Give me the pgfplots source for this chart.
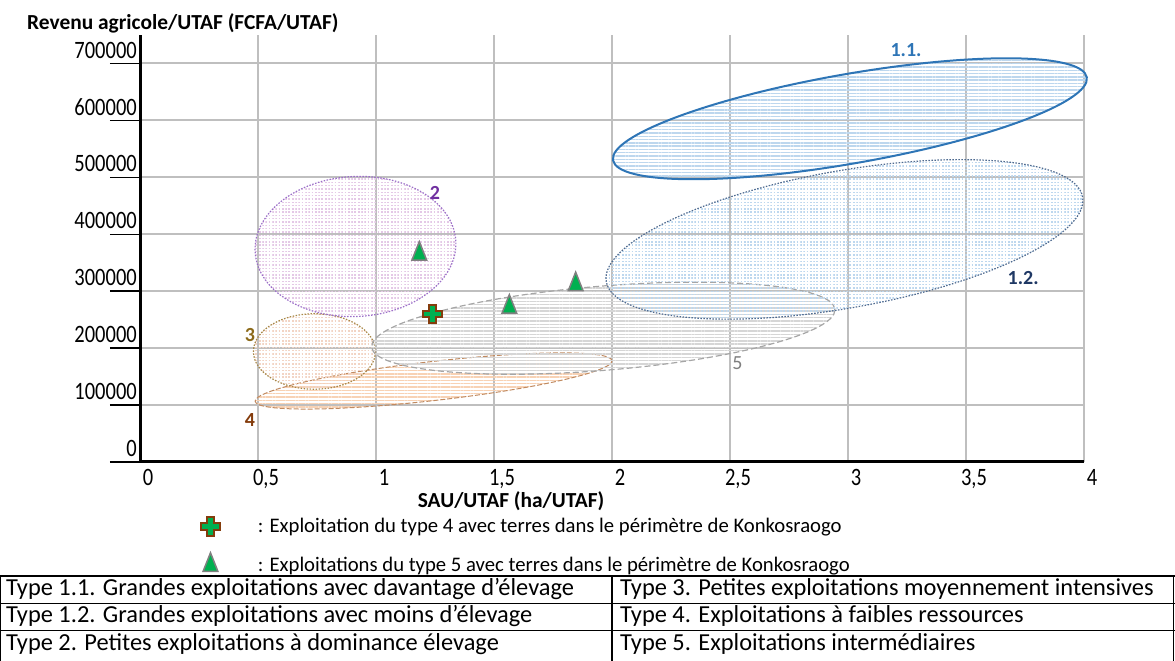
\documentclass[border=0pt]{standalone}
\usepackage{fontspec}
\setmainfont{Carlito}
\newfontfamily\tickfam{Carlito}[FakeStretch=0.82]
\usepackage{pgfplots}
\pgfplotsset{compat=1.18}
\usetikzlibrary{patterns.meta}

\definecolor{gridgray}{HTML}{BFBFBF}
\definecolor{c11}{HTML}{2E75B6}
\definecolor{c12}{HTML}{4F6A8F}
\definecolor{c12t}{HTML}{1F3864}
\definecolor{hblue}{HTML}{BDD7EE}
\definecolor{c2}{HTML}{9B6FC8}
\definecolor{c2t}{HTML}{7030A0}
\definecolor{h2}{HTML}{E4C8E6}
\definecolor{c3}{HTML}{A88848}
\definecolor{c3t}{HTML}{8C6A1A}
\definecolor{h3}{HTML}{F2D4C4}
\definecolor{c4}{HTML}{C08A60}
\definecolor{c4t}{HTML}{843C0C}
\definecolor{h4}{HTML}{F8D2B4}
\definecolor{c5}{HTML}{A6A6A6}
\definecolor{c5t}{HTML}{7F7F7F}
\definecolor{h5}{HTML}{D6D6D6}
\definecolor{mgreen}{HTML}{00B050}
\definecolor{mbrown}{HTML}{843C0C}
\definecolor{mgray}{HTML}{808080}

\newcommand\tickfont{\tickfam\fontsize{25bp}{28bp}\selectfont}
\newcommand\titlefont{\fontsize{21.4bp}{25bp}\selectfont\bfseries}
\newcommand\legfont{\fontsize{20.7bp}{24bp}\selectfont}
\newcommand\tabfont{\fontsize{24.4bp}{28bp}\selectfont}
\newcommand\lblfont{\fontsize{20bp}{24bp}\selectfont\bfseries}

\pgfdeclareplotmark{fatplus}{%
  \pgfpathmoveto{\pgfqpoint{-0.36\pgfplotmarksize}{\pgfplotmarksize}}%
  \pgfpathlineto{\pgfqpoint{0.36\pgfplotmarksize}{\pgfplotmarksize}}%
  \pgfpathlineto{\pgfqpoint{0.36\pgfplotmarksize}{0.36\pgfplotmarksize}}%
  \pgfpathlineto{\pgfqpoint{\pgfplotmarksize}{0.36\pgfplotmarksize}}%
  \pgfpathlineto{\pgfqpoint{\pgfplotmarksize}{-0.36\pgfplotmarksize}}%
  \pgfpathlineto{\pgfqpoint{0.36\pgfplotmarksize}{-0.36\pgfplotmarksize}}%
  \pgfpathlineto{\pgfqpoint{0.36\pgfplotmarksize}{-\pgfplotmarksize}}%
  \pgfpathlineto{\pgfqpoint{-0.36\pgfplotmarksize}{-\pgfplotmarksize}}%
  \pgfpathlineto{\pgfqpoint{-0.36\pgfplotmarksize}{-0.36\pgfplotmarksize}}%
  \pgfpathlineto{\pgfqpoint{-\pgfplotmarksize}{-0.36\pgfplotmarksize}}%
  \pgfpathlineto{\pgfqpoint{-\pgfplotmarksize}{0.36\pgfplotmarksize}}%
  \pgfpathlineto{\pgfqpoint{-0.36\pgfplotmarksize}{0.36\pgfplotmarksize}}%
  \pgfpathclose
  \pgfusepathqfillstroke
}

\tikzset{hatch/.style={pattern={Lines[angle=0,distance=3.3bp,line width=1.4bp]}, pattern color=#1}}

\begin{document}
\begin{tikzpicture}[x=1bp,y=1bp]
\useasboundingbox (0,0) rectangle (1175,661);
\begin{axis}[
  at={(140bp,199bp)}, anchor=south west,
  scale only axis, width=944bp, height=427bp,
  xmin=0, xmax=4, ymin=0, ymax=750000,
  axis lines=left, axis line style={-, line width=3bp, black},
  xtick={0,0.5,1,1.5,2,2.5,3,3.5,4},
  xticklabels={0,{0,5},1,{1,5},2,{2,5},3,{3,5},4},
  ytick={0,100000,200000,300000,400000,500000,600000,700000},
  yticklabels={0,100000,200000,300000,400000,500000,600000,700000},
  scaled y ticks=false,
  grid=major, major grid style={gridgray, line width=2bp},
  tick align=outside, major tick length=30bp,
  xtick style={draw=none}, ytick style={black, line width=1.5bp},
  ticklabel style={font=\tickfont},
  yticklabel style={anchor=south east, inner sep=0pt, xshift=27bp, yshift=5bp},
  xticklabel style={anchor=north, inner sep=0pt, xshift=8bp, yshift=23bp},
  clip=false,
  legend style={draw=none, fill=none, inner sep=0pt, at={(0.0646,-0.1288)}, anchor=north west,
    font=\legfont, row sep=17bp, column sep=38bp, nodes={inner sep=0pt}},
  legend cell align=left,
  legend image code/.code={\draw[#1] plot coordinates {(0bp,0bp)};},
]
% ellipses (areas of farm types)
\draw[draw=c4, line width=1bp, dash pattern=on 5bp off 2bp, hatch=h4,
  rotate around={6.5:(axis cs:1.244,142300)}] (axis cs:1.244,142300) ellipse [x radius=179.6bp, y radius=19.5bp];
\draw[draw=c3, line width=1.2bp, dash pattern=on 1.5bp off 1.5bp, hatch=h3]
  (axis cs:0.739,194100) ellipse [x radius=61bp, y radius=37.7bp];
\draw[draw=c5, line width=1.2bp, dash pattern=on 6bp off 3bp, hatch=h5,
  rotate around={4.67:(axis cs:1.963,235000)}] (axis cs:1.963,235000) ellipse [x radius=232.4bp, y radius=42.1bp];
\draw[draw=c2, line width=1.2bp, dash pattern=on 1.5bp off 1.5bp, hatch=h2,
  rotate around={3:(axis cs:0.913,378500)}] (axis cs:0.913,378500) ellipse [x radius=100.5bp, y radius=70bp];
\draw[draw=c12, line width=1.2bp, dash pattern=on 1.5bp off 1.5bp, hatch=hblue,
  rotate around={10.1:(axis cs:2.985,391000)}] (axis cs:2.985,391000) ellipse [x radius=241.9bp, y radius=68.6bp];
\draw[draw=c11, line width=2bp, hatch=hblue,
  rotate around={9.93:(axis cs:3.008,602870)}] (axis cs:3.008,602870) ellipse [x radius=240.5bp, y radius=44.7bp];

% markers
\addplot[only marks, mark=fatplus, mark size=9.3bp, mark options={fill=mgreen, draw=mbrown, line width=1.8bp}]
  coordinates {(1.24,260000)};
\addlegendentry{: Exploitation du type 4 avec terres dans le périmètre de Konkosraogo}
\addplot[only marks, mark=triangle*, mark size=8.5bp, mark options={fill=mgreen, draw=mgray, line width=1.5bp, yscale=1.45}]
  coordinates {(1.1835,365400) (1.565,272100) (1.846,311800)};
\addlegendentry{: Exploitations du type 5 avec terres dans le périmètre de Konkosraogo}

% labels
\node[font=\lblfont, text=c11] at (axis cs:3.246,723700) {1.1.};
\node[font=\lblfont, text=c12t] at (axis cs:3.742,323200) {1.2.};
\node[font=\lblfont, text=c2t] at (axis cs:1.25,472000) {2};
\node[font=\lblfont, text=c3t] at (axis cs:0.466,223100) {3};
\node[font=\lblfont, text=c4t] at (axis cs:0.466,72900) {4};
\node[font=\fontsize{20bp}{24bp}\selectfont, text=c5t] at (axis cs:2.531,173400) {5};
\end{axis}

\node[anchor=base west, inner sep=0pt, font=\titlefont] at (27,631.7) {Revenu agricole/UTAF (FCFA/UTAF)};
\node[anchor=base, inner sep=0pt, font=\titlefont] at (511,153) {SAU/UTAF (ha/UTAF)};

% table
\draw[line width=1.5bp] (0,85) -- (1175,85) (0,57.5) -- (1175,57.5) (0,30.5) -- (1175,30.5);
\draw[line width=1.5bp] (0.75,85) -- (0.75,0) (612,85) -- (612,0) (1173.5,85) -- (1173.5,0);
\node[anchor=base west, inner sep=0pt, font=\tabfont] at (6,65) {Type 1.1. Grandes exploitations avec davantage d’élevage};
\node[anchor=base west, inner sep=0pt, font=\tabfont] at (6,38) {Type 1.2. Grandes exploitations avec moins d’élevage};
\node[anchor=base west, inner sep=0pt, font=\tabfont] at (6,10.5) {Type 2. Petites exploitations à dominance élevage};
\node[anchor=base west, inner sep=0pt, font=\tabfont] at (620,65) {Type 3. Petites exploitations moyennement intensives};
\node[anchor=base west, inner sep=0pt, font=\tabfont] at (620,38) {Type 4. Exploitations à faibles ressources};
\node[anchor=base west, inner sep=0pt, font=\tabfont] at (620,10.5) {Type 5. Exploitations intermédiaires};
\end{tikzpicture}
\end{document}
